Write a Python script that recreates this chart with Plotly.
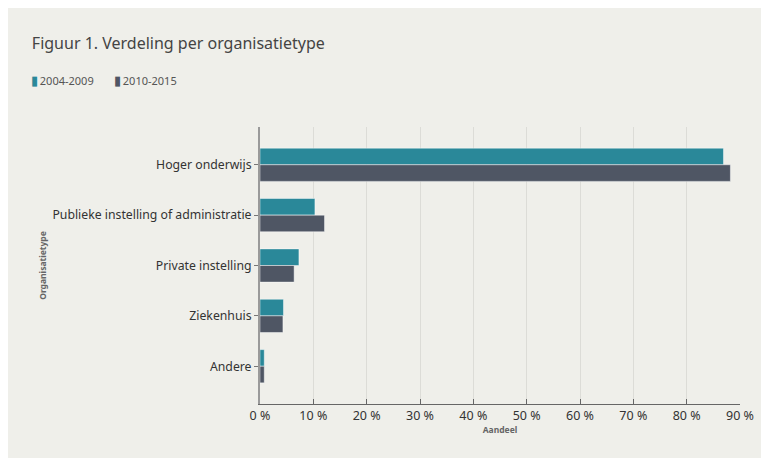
import plotly.graph_objects as go

categories = ["Hoger onderwijs", "Publieke instelling of administratie",
              "Private instelling", "Ziekenhuis", "Andere"]
periode_1 = [86.9, 10.3, 7.3, 4.4, 0.8]   # 2004-2009
periode_2 = [88.2, 12.1, 6.4, 4.3, 0.8]   # 2010-2015
series_names = ["2004-2009", "2010-2015"]
tick_values = [0, 10, 20, 30, 40, 50, 60, 70, 80, 90]
tick_labels = [f"{v} %" for v in tick_values]

TEAL = "#2a8899"
SLATE = "#4f5664"
CARD = "#efefea"
FONT = "Noto Sans"
colors = [TEAL, SLATE]

fig = go.Figure()
for name, vals, col in zip(series_names, [periode_1, periode_2], colors):
    fig.add_trace(go.Bar(
        y=categories, x=vals, name=name, orientation="h", showlegend=False,
        marker=dict(color=col, line=dict(color="rgba(255,255,255,0.45)", width=1)),
    ))

# compact legend like the original (small tall swatch + label)
legend_x = [-0.481, -0.308]
for name, col, lx in zip(series_names, colors, legend_x):
    fig.add_annotation(
        xref="paper", yref="paper", x=lx, y=1.17, xanchor="left", yanchor="middle",
        showarrow=False,
        text=f"<span style='color:{col};font-size:13px'>▮</span>\u2009{name}",
        font=dict(size=11, color="#555555"),
    )

fig.update_layout(
    width=769, height=458,
    margin=dict(l=252, r=37, t=119, b=62),
    paper_bgcolor=CARD, plot_bgcolor=CARD,
    barmode="group", bargap=0.34, bargroupgap=0,
    font=dict(family=FONT, color="#333333", size=12),
    title=dict(text="Figuur 1. Verdeling per organisatietype",
               xref="container", yref="container", x=0.031, y=0.923,
               xanchor="left", yanchor="middle",
               font=dict(family=FONT, size=16, color="#444444")),
    xaxis=dict(range=[0, 90], tickmode="array", tickvals=tick_values, ticktext=tick_labels,
               showgrid=True, gridcolor="#dcdcd7", gridwidth=1,
               showline=True, linecolor="#666666", linewidth=1,
               ticks="inside", ticklen=5, tickcolor="#666666",
               tickfont=dict(size=12.5, color="#333333"), zeroline=False,
               title=dict(text="Aandeel", standoff=2,
                          font=dict(size=8.5, color="#666666", weight="bold"))),
    yaxis=dict(categoryorder="array", categoryarray=categories,
               range=[4.75, -0.75], showgrid=False,
               showline=True, linecolor="#9a9a9a", linewidth=2,
               ticks="outside", ticklen=4, tickcolor="#777777",
               tickfont=dict(size=12.25, color="#333333"),
               title=dict(text="Organisatietype", standoff=4,
                          font=dict(size=8.5, color="#666666", weight="bold"))),
)

fig.write_html("out.html")
